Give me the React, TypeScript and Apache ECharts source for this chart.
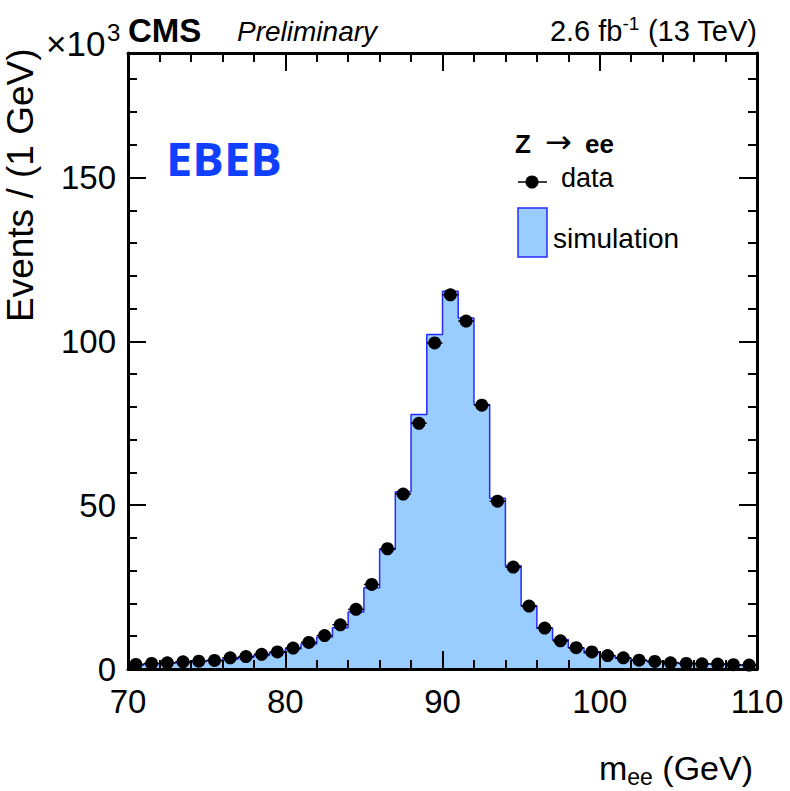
import React, { useEffect, useRef } from "react";
import * as echarts from "echarts";

// Bin low edges (GeV), 1 GeV bins
const binLowEdges = [
  70, 71, 72, 73, 74, 75, 76, 77, 78, 79,
  80, 81, 82, 83, 84, 85, 86, 87, 88, 89,
  90, 91, 92, 93, 94, 95, 96, 97, 98, 99,
  100, 101, 102, 103, 104, 105, 106, 107, 108, 109,
];
const binWidth = 1;

// Events per bin, in units of 10^3
const dataCounts = [
  1.4, 1.7, 1.9, 2.2, 2.4, 2.6, 3.4, 3.8, 4.5, 5.2,
  6.4, 8.1, 10.2, 13.5, 18.2, 25.8, 36.7, 53.4, 75.0, 99.5,
  114.2, 106.2, 80.5, 51.2, 31.1, 19.2, 12.5, 8.6, 6.5, 5.2,
  4.1, 3.4, 2.7, 2.3, 1.9, 1.7, 1.6, 1.5, 1.3, 1.2,
];
const simCounts = [
  1.2, 1.5, 1.8, 2.0, 2.3, 2.6, 3.0, 3.5, 4.1, 5.0,
  6.1, 7.6, 9.7, 12.6, 17.4, 24.8, 36.5, 54.1, 77.7, 102.1,
  115.3, 107.1, 80.7, 52.1, 31.5, 19.3, 12.4, 9.0, 6.5, 4.9,
  4.0, 3.3, 2.7, 2.3, 2.0, 1.7, 1.5, 1.4, 1.2, 1.1,
];

const xMin = 70;
const xMax = 110;
const xMajor = 10;
const yMin = 0;
const yMax = 188;
const yMajor = 50;
const yMinor = 10;

const FONT = "'Liberation Sans', Arial, Helvetica, sans-serif";
const FILL = "#99ccff";
const EDGE = "#2a2aff";

export default function App() {
  const ref = useRef<HTMLDivElement>(null);

  useEffect(() => {
    if (!ref.current) return;
    const chart = echarts.init(ref.current, null, { renderer: "svg" });

    const last = binLowEdges.length - 1;
    const histPoints = binLowEdges.map((lo, i) => [lo, simCounts[i]]);
    histPoints.push([binLowEdges[last] + binWidth, simCounts[last]]);
    const dataPoints = binLowEdges.map((lo, i) => [lo + binWidth / 2, dataCounts[i]]);

    const black = { color: "#000", width: 2 };
    const frame = { show: true, onZero: false, lineStyle: { color: "#000", width: 3 } };

    const xBase = (position: string, labels: boolean) => ({
      type: "value",
      position,
      min: xMin,
      max: xMax,
      interval: xMajor,
      z: 10,
      axisLine: frame,
      axisTick: { show: true, inside: true, length: 18, lineStyle: black },
      minorTick: { show: true, splitNumber: 5, length: 9, lineStyle: black },
      axisLabel: labels
        ? { show: true, color: "#000", fontSize: 33, fontFamily: FONT, margin: 16 }
        : { show: false },
      splitLine: { show: false },
      minorSplitLine: { show: false },
    });

    const yBase = (position: string, interval: number, major: boolean, labels: boolean) => ({
      type: "value",
      position,
      min: yMin,
      max: yMax,
      interval,
      z: 10,
      axisLine: major ? frame : { show: false, onZero: false },
      axisTick: { show: true, inside: true, length: major ? 18 : 9, lineStyle: black },
      axisLabel: labels
        ? {
            show: true,
            color: "#000",
            fontSize: 33,
            fontFamily: FONT,
            margin: 12,
            showMaxLabel: false,
            formatter: (v: number) => (v % yMajor === 0 ? String(v) : ""),
          }
        : { show: false },
      splitLine: { show: false },
    });

    const option: any = {
      animation: false,
      backgroundColor: "#fff",
      grid: { left: 128, right: 33, top: 53, bottom: 122, containLabel: false },
      xAxis: [xBase("bottom", true), xBase("top", false)],
      yAxis: [
        yBase("left", yMajor, true, true),
        yBase("left", yMinor, false, false),
        yBase("right", yMajor, true, false),
        yBase("right", yMinor, false, false),
      ],
      series: [
        {
          name: "simulation",
          type: "line",
          xAxisIndex: 0,
          yAxisIndex: 0,
          step: "end",
          data: histPoints,
          symbol: "none",
          lineStyle: { color: EDGE, width: 1.5 },
          areaStyle: { color: FILL, opacity: 1 },
          z: 2,
        },
        {
          name: "data-xerr",
          type: "custom",
          xAxisIndex: 0,
          yAxisIndex: 0,
          data: dataPoints,
          encode: { x: 0, y: 1 },
          renderItem: (params: any, api: any) => {
            const x = api.value(0);
            const y = api.value(1);
            const a = api.coord([x - binWidth / 2, y]);
            const b = api.coord([x + binWidth / 2, y]);
            return {
              type: "line",
              shape: { x1: a[0], y1: a[1], x2: b[0], y2: b[1] },
              style: { stroke: "#000", lineWidth: 1.5 },
            };
          },
          z: 3,
        },
        {
          name: "data",
          type: "scatter",
          xAxisIndex: 0,
          yAxisIndex: 0,
          data: dataPoints,
          symbol: "circle",
          symbolSize: 13,
          itemStyle: { color: "#000", opacity: 1 },
          z: 4,
        },
      ],
      graphic: [
        {
          type: "text",
          x: 128,
          y: 30,
          style: { text: "CMS", fill: "#000", fontSize: 33, fontWeight: "bold", fontFamily: FONT, align: "left", verticalAlign: "middle" },
        },
        {
          type: "text",
          x: 237,
          y: 31,
          style: { text: "Preliminary", fill: "#000", fontSize: 28, fontStyle: "italic", fontFamily: FONT, align: "left", verticalAlign: "middle" },
        },
        {
          type: "text",
          x: 757,
          y: 31,
          style: {
            text: "{a|2.6 fb}{s|-1}{a| (13 TeV)}",
            align: "right",
            verticalAlign: "middle",
            rich: {
              a: { fontSize: 29, fontFamily: FONT, fill: "#000", lineHeight: 34 },
              s: { fontSize: 19, fontFamily: FONT, fill: "#000", lineHeight: 24, verticalAlign: "top" },
            },
          },
        },
        {
          type: "text",
          x: 46,
          y: 43,
          style: { text: "×10", fill: "#000", fontSize: 35, fontFamily: FONT, align: "left", verticalAlign: "middle" },
        },
        {
          type: "text",
          x: 107,
          y: 32,
          style: { text: "3", fill: "#000", fontSize: 24, fontFamily: FONT, align: "left", verticalAlign: "middle" },
        },
        {
          type: "text",
          x: 20,
          y: 322,
          rotation: Math.PI / 2,
          style: { text: "Events / (1 GeV)", fill: "#000", fontSize: 37, fontFamily: FONT, align: "left", verticalAlign: "middle" },
        },
        {
          type: "text",
          x: 753,
          y: 768,
          style: {
            text: "{m|m}{s|ee}{m| (GeV)}",
            align: "right",
            verticalAlign: "middle",
            rich: {
              m: { fontSize: 34, fontFamily: FONT, fill: "#000", lineHeight: 40 },
              s: { fontSize: 23, fontFamily: FONT, fill: "#000", lineHeight: 18, verticalAlign: "bottom" },
            },
          },
        },
        {
          type: "text",
          x: 166,
          y: 158,
          style: { text: "EBEB", fill: "#1040ff", fontSize: 47, fontWeight: "bold", fontFamily: "'Open Sans', sans-serif", align: "left", verticalAlign: "middle" },
        },
        // Legend
        {
          type: "text",
          x: 515,
          y: 144,
          style: { text: "Z", fill: "#000", fontSize: 26, fontWeight: "bold", fontFamily: FONT, align: "left", verticalAlign: "middle" },
        },
        {
          type: "text",
          x: 545,
          y: 142,
          style: { text: "→", fill: "#000", fontSize: 32, fontFamily: "'DejaVu Sans', sans-serif", align: "left", verticalAlign: "middle" },
        },
        {
          type: "text",
          x: 585,
          y: 144,
          style: { text: "ee", fill: "#000", fontSize: 26, fontWeight: "bold", fontFamily: FONT, align: "left", verticalAlign: "middle" },
        },
        {
          type: "line",
          shape: { x1: 518, y1: 182, x2: 547, y2: 182 },
          style: { stroke: "#000", lineWidth: 1.5 },
        },
        {
          type: "circle",
          shape: { cx: 532, cy: 182, r: 6.5 },
          style: { fill: "#000" },
        },
        {
          type: "text",
          x: 561,
          y: 178,
          style: { text: "data", fill: "#000", fontSize: 27, fontFamily: FONT, align: "left", verticalAlign: "middle" },
        },
        {
          type: "rect",
          shape: { x: 518, y: 208, width: 29, height: 49 },
          style: { fill: FILL, stroke: EDGE, lineWidth: 1.5 },
        },
        {
          type: "text",
          x: 553,
          y: 238,
          style: { text: "simulation", fill: "#000", fontSize: 28, fontFamily: FONT, align: "left", verticalAlign: "middle" },
        },
      ],
    };

    chart.setOption(option);
    return () => chart.dispose();
  }, []);

  return (
    <div
      ref={ref}
      style={{ position: "fixed", left: 0, top: 0, width: 790, height: 791, background: "#fff" }}
    />
  );
}
